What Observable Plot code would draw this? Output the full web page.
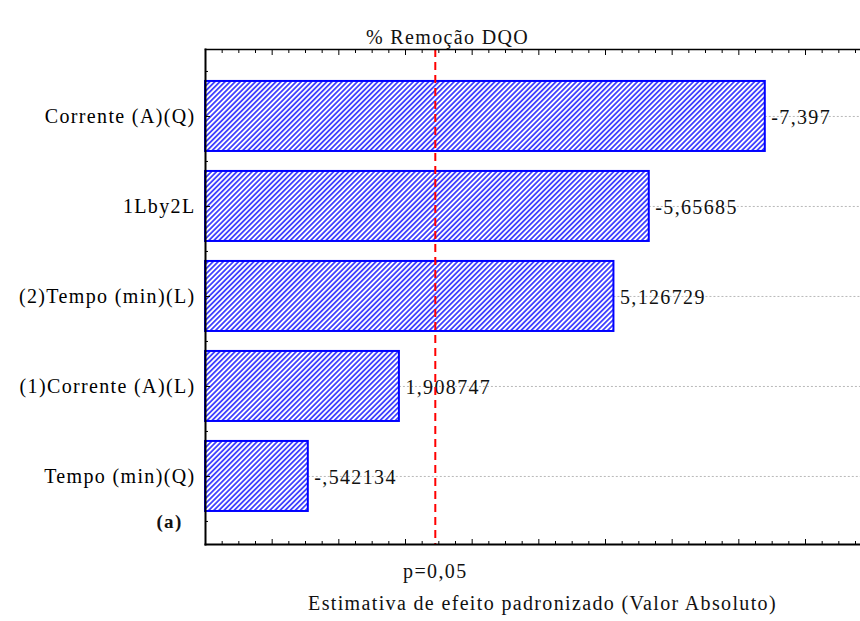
<!DOCTYPE html>
<html>
<head>
<meta charset="utf-8">
<script src="https://cdn.jsdelivr.net/npm/d3@7"></script>
<script src="https://cdn.jsdelivr.net/npm/@observablehq/plot@0.6"></script>
<style>
  body { margin: 0; background: #fff; }
  #chart svg { display: block; }
  #chart svg, #chart svg text { font-family: "Liberation Serif", "Times New Roman", serif !important; }
  #chart svg text { letter-spacing: 1.35px; }
</style>
</head>
<body>
<div id="chart"></div>
<script>
// Data (top-to-bottom order, as in the Pareto chart)
const categories = ["Corrente (A)(Q)", "1Lby2L", "(2)Tempo (min)(L)", "(1)Corrente (A)(L)", "Tempo (min)(Q)"];
const effects = [-7.397, -5.65685, 5.126729, 1.908747, -0.542134];
const effectLabels = ["-7,397", "-5,65685", "5,126729", "1,908747", "-,542134"];
const pCritical = 2.447;      // p = 0,05 reference line
const pLabel = "p=0,05";
const title = "% Remoção DQO";
const xTitle = "Estimativa de efeito padronizado (Valor Absoluto)";
const panelTag = "(a)";

const xDomain = [-1, 8.825];
const yDomain = [0.256, 5.756];

const rows = categories.map((c, i) => ({
  name: c,
  idx: i + 1,
  abs: Math.abs(effects[i]),
  label: effectLabels[i]
}));

const defs = () => {
  const d = d3.create("svg:defs");
  const p = d.append("pattern")
    .attr("id", "hatch")
    .attr("patternUnits", "userSpaceOnUse")
    .attr("width", 3.6).attr("height", 3.6)
    .attr("patternTransform", "rotate(45)");
  p.append("rect").attr("width", 3.6).attr("height", 3.6).attr("fill", "#ffffff");
  p.append("line").attr("x1", 0.9).attr("y1", 0).attr("x2", 0.9).attr("y2", 3.6)
    .attr("stroke", "#2a2aff").attr("stroke-width", 1.6);
  return d.node();
};

const none = () => "";
const xMajor = d3.range(-1, 9, 1);
const xMinor = d3.range(-1, 8.83, 0.25).filter(v => Math.abs(v - Math.round(v)) > 1e-6);

const plot = Plot.plot({
  width: 860,
  height: 621,
  marginLeft: 205,
  marginRight: 0,
  marginTop: 49,
  marginBottom: 77,
  style: { fontSize: "20px", color: "#000", background: "#fff" },
  x: { domain: xDomain, axis: null, label: null },
  y: { domain: yDomain, reverse: true, axis: null, label: null },
  marks: [
    defs,
    // dotted guide lines from bar end to the right edge
    Plot.ruleY(rows, { y: "idx", x1: "abs", x2: xDomain[1], stroke: "#b8b8b8", strokeDasharray: "2,2", strokeWidth: 1 }),
    // bars
    Plot.rect(rows, {
      x1: xDomain[0], x2: "abs",
      y1: d => d.idx - 0.389, y2: d => d.idx + 0.389,
      fill: "url(#hatch)", stroke: "#0000ff", strokeWidth: 2
    }),
    // value labels
    Plot.text(rows, {
      x: "abs", y: "idx", text: "label", textAnchor: "start", dx: 6, dy: 1,
      fontSize: 20, fill: "#111"
    }),
    // p = 0.05 line
    Plot.ruleX([pCritical], { stroke: "#ff0000", strokeWidth: 2, strokeDasharray: "8,5" }),
    Plot.text([pLabel], { x: pCritical, frameAnchor: "bottom", dy: 33, fontSize: 20, fill: "#111" }),
    // frame lines
    Plot.frame({ anchor: "left", strokeWidth: 2 }),
    Plot.frame({ anchor: "bottom", strokeWidth: 2 }),
    Plot.frame({ anchor: "top", strokeWidth: 1.5 }),
    // x ticks (inward) bottom & top
    Plot.axisX({ anchor: "bottom", ticks: xMajor, tickSize: -5, tickFormat: none, label: null }),
    Plot.axisX({ anchor: "bottom", ticks: xMinor, tickSize: -3, tickFormat: none, label: null }),
    Plot.axisX({ anchor: "top", ticks: xMajor, tickSize: -5, tickFormat: none, label: null }),
    Plot.axisX({ anchor: "top", ticks: xMinor, tickSize: -3, tickFormat: none, label: null }),
    // y axis: category labels + inward ticks
    Plot.axisY({
      anchor: "left", ticks: d3.range(1, 6), tickSize: -5, tickPadding: 15,
      tickFormat: i => categories[i - 1], fontSize: 20, label: null
    }),
    Plot.axisY({ anchor: "left", ticks: d3.range(0.5, 6, 1), tickSize: -3, tickFormat: none, label: null }),
    // titles
    Plot.text([title], { frameAnchor: "top-left", dx: 242, dy: -20, textAnchor: "middle", fontSize: 20, fill: "#111" }),
    Plot.text([xTitle], { frameAnchor: "bottom-left", dx: 337, dy: 65, textAnchor: "middle", fontSize: 20, fill: "#111" }),
    Plot.text([panelTag], { frameAnchor: "bottom-left", dx: -36, dy: -17, textAnchor: "middle", fontSize: 19, fontWeight: "bold", fill: "#111" })
  ]
});

document.getElementById("chart").appendChild(plot);
</script>
</body>
</html>
